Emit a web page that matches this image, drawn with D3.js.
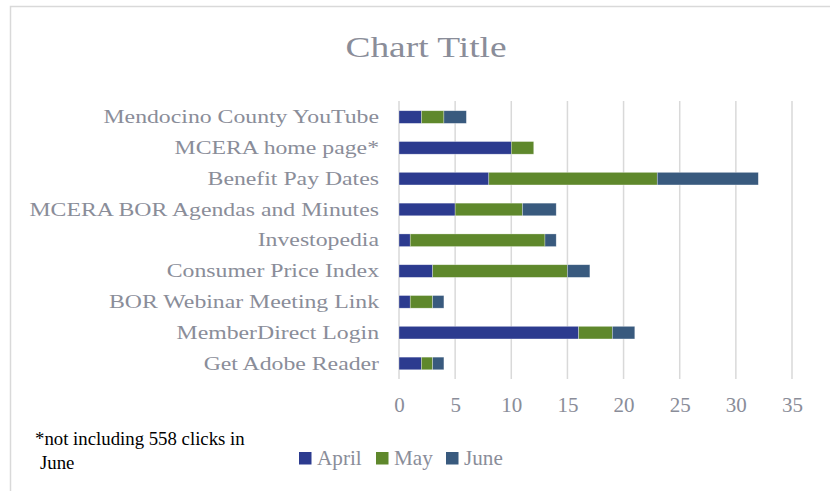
<!DOCTYPE html>
<html>
<head>
<meta charset="utf-8">
<script src="https://cdn.jsdelivr.net/npm/d3@7"></script>
<style>
  body { margin: 0; background: #ffffff; }
  svg { display: block; }
</style>
</head>
<body>
<div id="vis"></div>
<script>
// data, top row first (as shown)
var categories = [
  "Mendocino County YouTube",
  "MCERA home page*",
  "Benefit Pay Dates",
  "MCERA BOR Agendas and Minutes",
  "Investopedia",
  "Consumer Price Index",
  "BOR Webinar Meeting Link",
  "MemberDirect Login",
  "Get Adobe Reader"
];
var seriesNames = ["April", "May", "June"];
var april = [2, 10, 8, 5, 1, 3, 1, 16, 2];
var may   = [2, 2, 15, 6, 12, 12, 2, 3, 1];
var june  = [2, 0, 9, 3, 1, 2, 1, 2, 1];
var xTicks = [0, 5, 10, 15, 20, 25, 30, 35];
var colors = ["#2c3b8f", "#5f882c", "#395a7e"];

var width = 830, height = 491;
var serif = "'Liberation Serif', 'Times New Roman', serif";
var grey = "#8a8d99";

var svg = d3.select("#vis")
  .append("svg")
    .attr("width", width)
    .attr("height", height)
    .style("font-family", serif);

// chart area border
svg.append("rect")
  .attr("x", 10.5).attr("y", 6.5)
  .attr("width", 840).attr("height", 500)
  .attr("fill", "#ffffff")
  .attr("stroke", "#d9d9d9")
  .attr("stroke-width", 1.5);

// title (garamond is wider than the fallback, so stretch it a bit)
svg.append("g")
  .attr("transform", "translate(426,57) scale(1.29,1)")
  .append("text")
    .attr("text-anchor", "middle")
    .attr("fill", grey)
    .style("font-size", "29px")
    .text("Chart Title");

var x = d3.scaleLinear()
  .domain([0, 35])
  .range([399, 792]);

var y = d3.scaleBand()
  .domain(categories)
  .range([101.5, 379])
  .paddingInner(0.59)
  .paddingOuter(0.3);

// vertical gridlines
svg.append("g")
  .selectAll("line")
  .data(xTicks)
  .enter()
  .append("line")
    .attr("x1", d => x(d)).attr("x2", d => x(d))
    .attr("y1", 101).attr("y2", 379)
    .attr("stroke", "#d9d9d9")
    .attr("stroke-width", 1.5);

// x axis labels
var xAxis = svg.append("g")
  .attr("transform", "translate(0," + 390 + ")")
  .call(d3.axisBottom(x).tickValues(xTicks).tickSize(0).tickPadding(8))
  .call(g => g.select(".domain").remove());
xAxis.selectAll("text")
  .attr("fill", grey)
  .attr("transform", "scale(1.05,1)")
  .style("font-family", serif)
  .style("font-size", "20px");

// y axis labels
var yAxis = svg.append("g")
  .attr("transform", "translate(" + 389 + ",0)")
  .call(d3.axisLeft(y).tickSize(0).tickPadding(8))
  .call(g => g.select(".domain").remove());
yAxis.selectAll("text")
  .attr("fill", grey)
  .attr("transform", "scale(1.25,1)")
  .style("font-family", serif)
  .style("font-size", "19px");

// stacked bars
var rows = categories.map((c, i) => ({ cat: c, April: april[i], May: may[i], June: june[i] }));
var stacked = d3.stack().keys(seriesNames)(rows);

svg.append("g")
  .selectAll("g")
  .data(stacked)
  .enter()
  .append("g")
    .attr("fill", (d, i) => colors[i])
  .selectAll("rect")
  .data(d => d)
  .enter()
  .append("rect")
    .filter(d => d[1] > d[0])
    .attr("x", d => x(d[0]))
    .attr("y", d => y(d.data.cat))
    .attr("width", d => x(d[1]) - x(d[0]))
    .attr("height", y.bandwidth())
    .attr("stroke", "#ffffff")
    .attr("stroke-opacity", 0.5)
    .attr("stroke-width", 0.6);

// legend
var legendX = [299, 376, 446];
var legend = svg.append("g")
  .selectAll("g")
  .data(seriesNames)
  .enter()
  .append("g")
    .attr("transform", (d, i) => "translate(" + legendX[i] + "," + 452 + ")");
legend.append("rect")
  .attr("width", 12.5).attr("height", 12.5)
  .attr("fill", (d, i) => colors[i]);
legend.append("text")
  .attr("x", 17).attr("y", 13)
  .attr("fill", grey)
  .attr("transform", "scale(1.06,1)")
  .style("font-size", "20px")
  .text(d => d);

// footnote
var note = svg.append("text")
  .attr("fill", "#000000")
  .style("font-size", "18.8px");
note.append("tspan").attr("x", 35).attr("y", 445).text("*not including 558 clicks in");
note.append("tspan").attr("x", 40).attr("y", 469).text("June");
</script>
</body>
</html>
